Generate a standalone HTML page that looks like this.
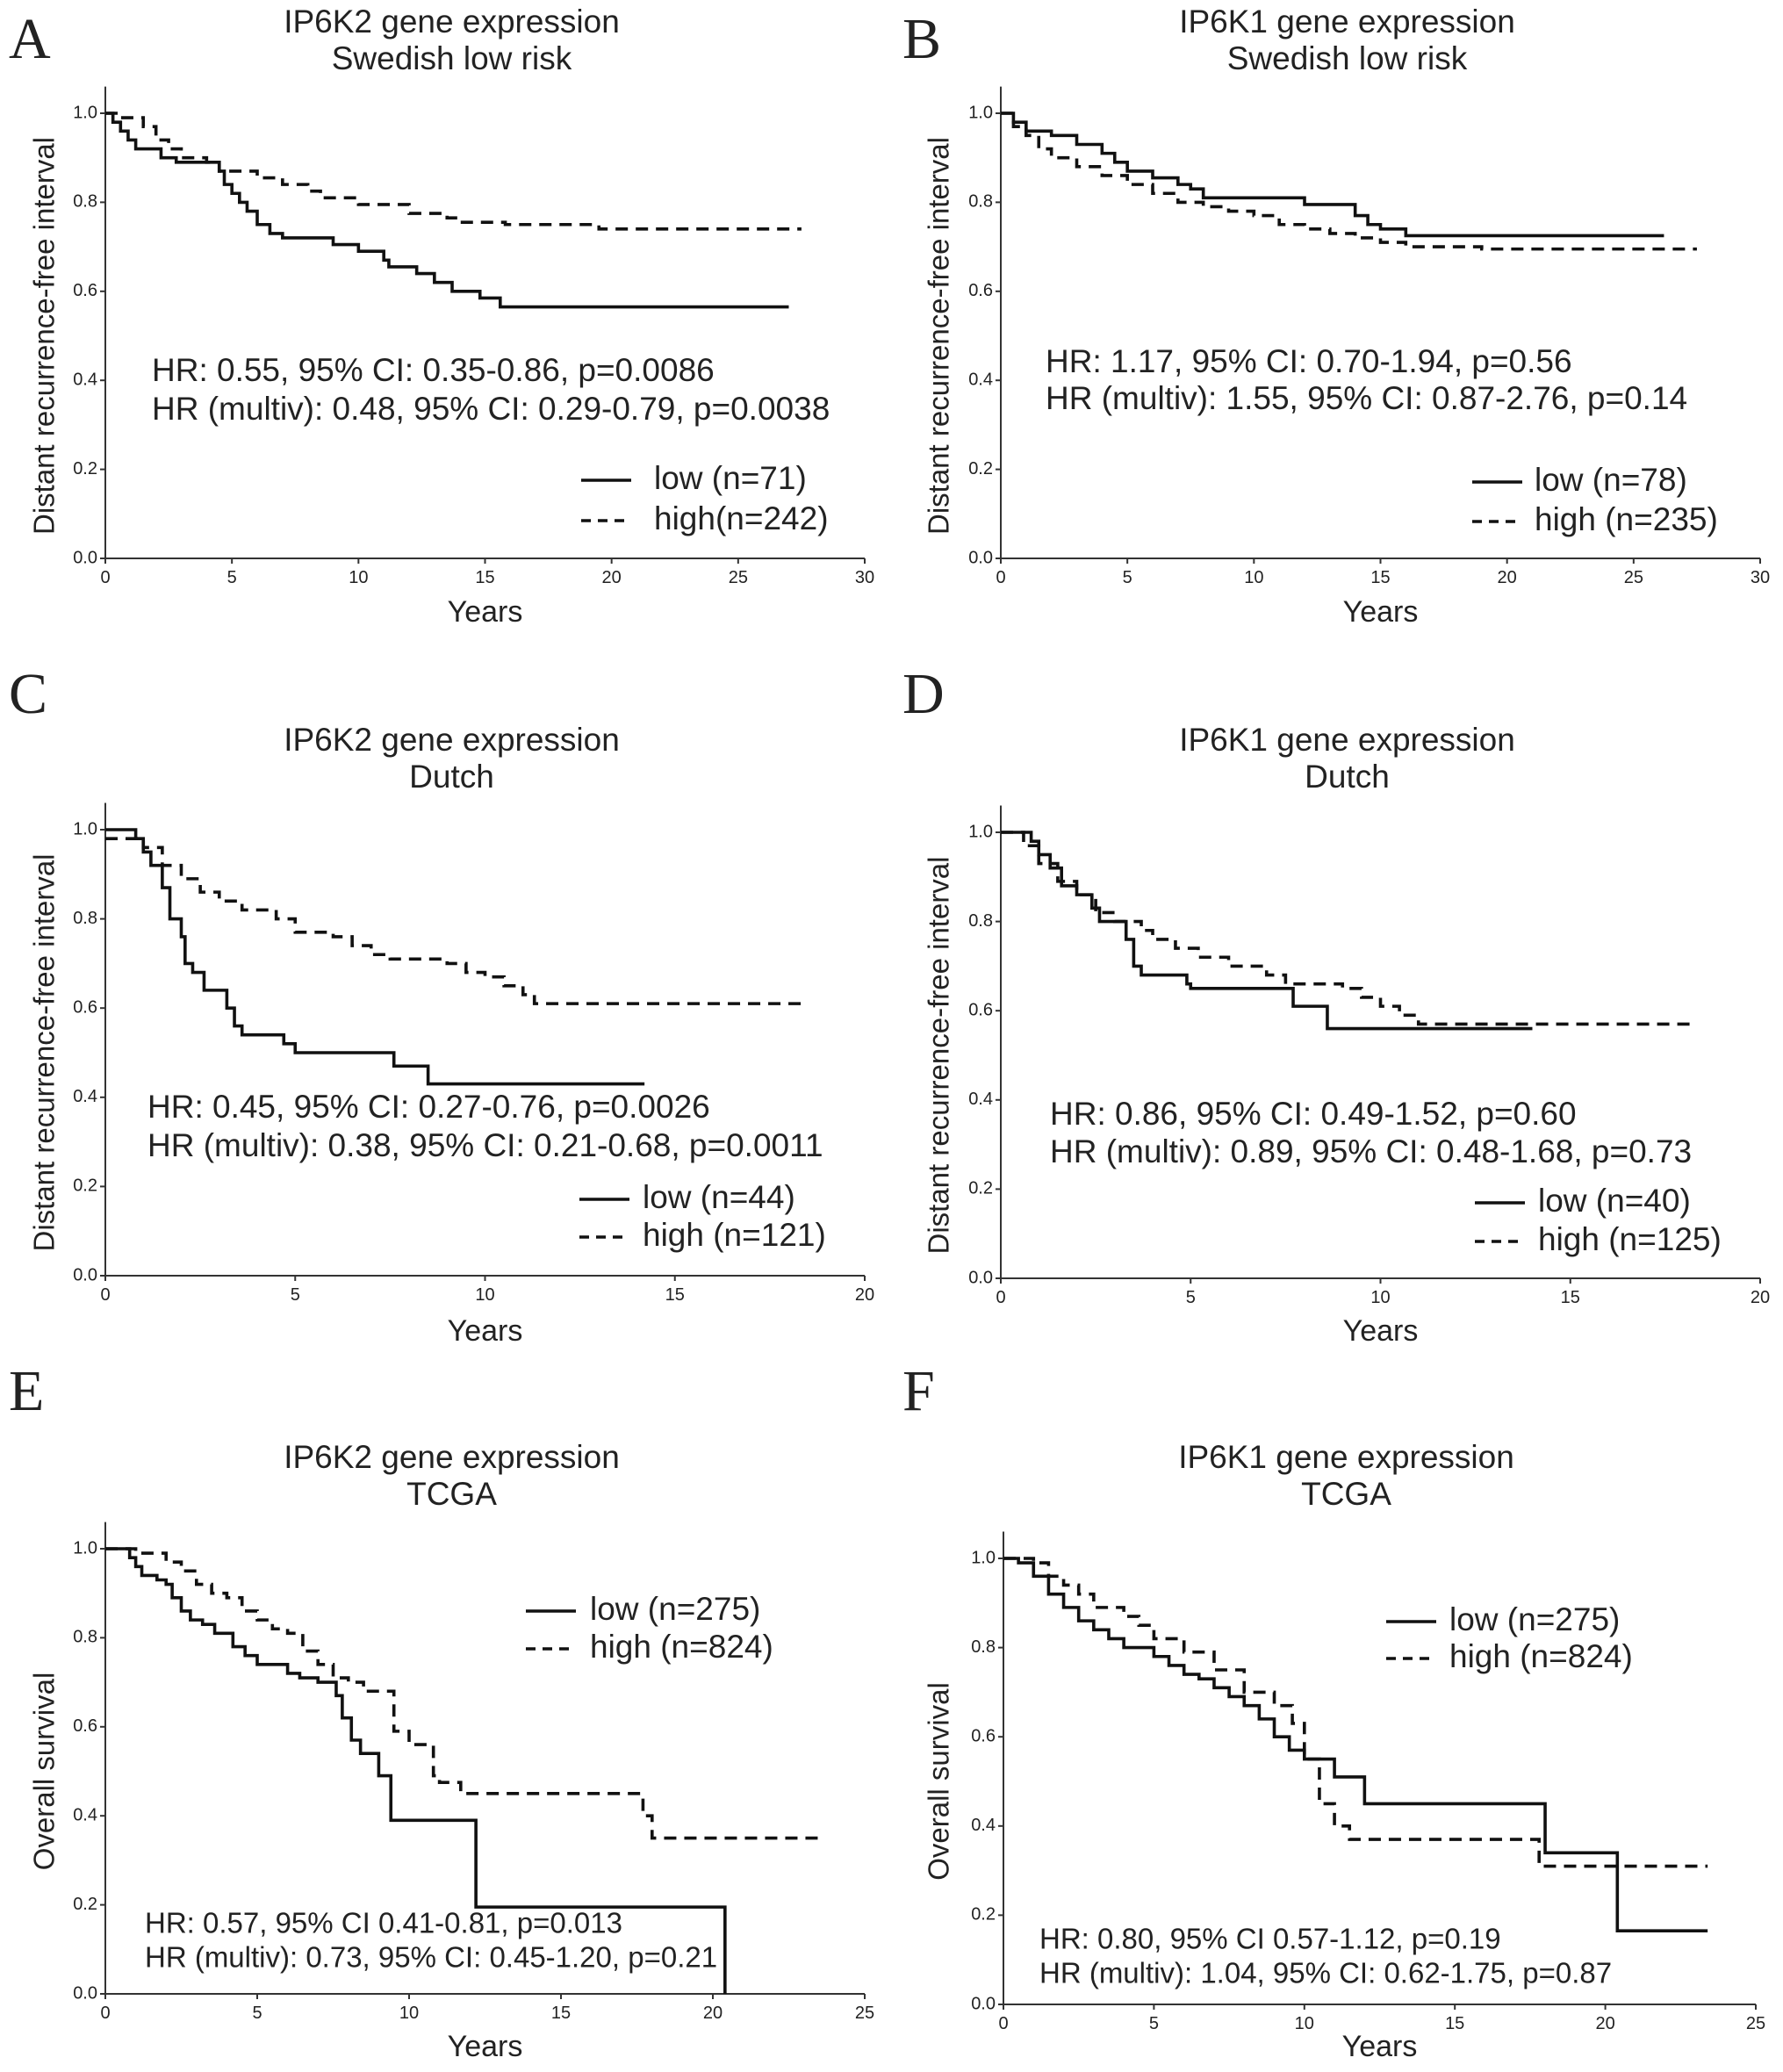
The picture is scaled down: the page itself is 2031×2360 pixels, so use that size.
<!DOCTYPE html>
<html><head><meta charset="utf-8"><style>
html,body{margin:0;padding:0;background:#fff}
svg{display:block}
text{font-family:"Liberation Sans",sans-serif;fill:#222}
</style></head><body>
<svg id="fig" width="2031" height="2360" viewBox="0 0 2031 2360"></svg>
<script>
// ---- data arrays (time in years, survival fraction) ----
const A_low_t=[0,0.3,0.6,0.9,1.2,2.2,2.8,4.5,4.7,5.0,5.3,5.6,6.0,6.5,7.0,9.0,10,11,11.2,12.3,13,13.7,14.8,15.6];
const A_low_s=[1.0,0.98,0.96,0.94,0.92,0.90,0.89,0.87,0.84,0.82,0.80,0.78,0.75,0.73,0.72,0.705,0.69,0.67,0.655,0.64,0.62,0.60,0.585,0.565];
const A_low_end=27;
const A_high_t=[0,0.5,1.5,2,2.5,3,4,4.5,6,7,8,8.5,10,12,13.5,14,15.8,19.5];
const A_high_s=[1.0,0.99,0.97,0.94,0.92,0.90,0.89,0.87,0.855,0.84,0.825,0.81,0.795,0.775,0.765,0.755,0.75,0.74];
const A_high_end=27.5;

const B_low_t=[0,0.5,1,2,3,4,4.5,5,6,7,7.5,8,12,14,14.5,15,16];
const B_low_s=[1.0,0.98,0.96,0.95,0.93,0.91,0.89,0.87,0.855,0.84,0.83,0.81,0.795,0.77,0.75,0.74,0.725];
const B_low_end=26.2;
const B_high_t=[0,0.5,1,1.5,2,3,4,5,6,7,8,9,10,11,12,13,14,15,16,19];
const B_high_s=[1.0,0.97,0.95,0.92,0.90,0.88,0.86,0.84,0.82,0.80,0.79,0.78,0.77,0.75,0.74,0.73,0.72,0.71,0.70,0.695];
const B_high_end=27.5;

const C_low_t=[0,0.8,1,1.2,1.5,1.7,2,2.1,2.3,2.6,3.2,3.4,3.6,4.7,5,7.6,8.5];
const C_low_s=[1.0,0.98,0.95,0.92,0.87,0.80,0.76,0.70,0.68,0.64,0.60,0.56,0.54,0.52,0.50,0.47,0.43];
const C_low_end=14.2;
const C_high_t=[0,1,1.5,2,2.5,3,3.6,4.5,5,6,6.5,7,7.5,9,9.5,10,10.5,11,11.3];
const C_high_s=[0.98,0.96,0.92,0.89,0.86,0.84,0.82,0.80,0.77,0.76,0.74,0.72,0.71,0.70,0.68,0.67,0.65,0.63,0.61];
const C_high_end=18.5;

const D_low_t=[0,0.8,1,1.3,1.6,2,2.4,2.6,3.3,3.5,3.7,4.9,5,7.7,8.6];
const D_low_s=[1.0,0.98,0.95,0.92,0.88,0.86,0.83,0.80,0.76,0.70,0.68,0.66,0.65,0.61,0.56];
const D_low_end=14;
const D_high_t=[0,0.6,1,1.5,2,2.5,3,3.7,4,4.6,5.2,6,7,7.5,9,9.5,10,10.5,11];
const D_high_s=[1.0,0.97,0.93,0.89,0.86,0.82,0.80,0.78,0.76,0.74,0.72,0.70,0.68,0.66,0.65,0.63,0.61,0.59,0.57];
const D_high_end=18.3;

const E_low_t=[0,0.8,1,1.2,1.7,2,2.2,2.5,2.8,3.2,3.6,4.2,4.6,5,6,6.4,7,7.6,7.8,8.1,8.4,9,9.4,12.2,20.4];
const E_low_s=[1.0,0.98,0.96,0.94,0.93,0.92,0.89,0.86,0.84,0.83,0.81,0.78,0.76,0.74,0.72,0.71,0.70,0.67,0.62,0.57,0.54,0.49,0.39,0.195,0.0];
const E_low_end=20.4;
const E_high_t=[0,1,2,2.5,3,3.5,4,4.5,5,5.5,6,6.5,7,7.5,8,8.5,9.5,10,10.8,11,11.7,17.7,18];
const E_high_s=[1.0,0.99,0.97,0.95,0.92,0.90,0.89,0.86,0.84,0.82,0.81,0.77,0.74,0.71,0.70,0.68,0.59,0.56,0.49,0.475,0.45,0.40,0.35];
const E_high_end=23.5;

const F_low_t=[0,0.5,1,1.5,2,2.5,3,3.5,4,5,5.5,6,6.5,7,7.5,8,8.5,9,9.5,10,11,12,18,20.4];
const F_low_s=[1.0,0.99,0.96,0.92,0.89,0.86,0.84,0.82,0.80,0.78,0.76,0.74,0.73,0.71,0.69,0.67,0.64,0.60,0.57,0.55,0.51,0.45,0.34,0.165];
const F_low_end=23.4;
const F_high_t=[0,1,1.5,2,2.5,3,4,4.5,5,6,7,8,9,9.6,10,10.5,11,11.5,17.8];
const F_high_s=[1.0,0.99,0.96,0.94,0.92,0.89,0.87,0.85,0.82,0.79,0.75,0.70,0.67,0.63,0.55,0.45,0.40,0.37,0.31];
const F_high_end=23.4;

const yTicks=[0,0.2,0.4,0.6,0.8,1.0];

const panels=[
 {id:'a',letter:'A',lx:10,ly:66,title:['IP6K2 gene expression','Swedish low risk'],ty:[27,69],x0:120,x1:985,yT:129,yB:636,xmax:30,xstep:5,ylab:'Distant recurrence-free interval',ylx:53,yrs:699,
  hr:['HR: 0.55, 95% CI: 0.35-0.86, p=0.0086','HR (multiv): 0.48, 95% CI: 0.29-0.79, p=0.0038'],hx:173,hy:[424,468],hf:37,
  leg:['low (n=71)','high(n=242)'],lg:[662,719,745],legy:[547,593],
  low:[A_low_t,A_low_s,A_low_end],high:[A_high_t,A_high_s,A_high_end]},
 {id:'b',letter:'B',lx:1028,ly:66,title:['IP6K1 gene expression','Swedish low risk'],ty:[27,69],x0:1140,x1:2005,yT:129,yB:636,xmax:30,xstep:5,ylab:'Distant recurrence-free interval',ylx:1072,yrs:699,
  hr:['HR: 1.17, 95% CI: 0.70-1.94, p=0.56','HR (multiv): 1.55, 95% CI: 0.87-2.76, p=0.14'],hx:1191,hy:[414,456],hf:37,
  leg:['low (n=78)','high (n=235)'],lg:[1677,1734,1748],legy:[549,594],
  low:[B_low_t,B_low_s,B_low_end],high:[B_high_t,B_high_s,B_high_end]},
 {id:'c',letter:'C',lx:10,ly:812,title:['IP6K2 gene expression','Dutch'],ty:[845,887],x0:120,x1:985,yT:945,yB:1453,xmax:20,xstep:5,ylab:'Distant recurrence-free interval',ylx:53,yrs:1518,
  hr:['HR: 0.45, 95% CI: 0.27-0.76, p=0.0026','HR (multiv): 0.38, 95% CI: 0.21-0.68, p=0.0011'],hx:168,hy:[1263,1307],hf:37,
  leg:['low (n=44)','high (n=121)'],lg:[660,717,732],legy:[1366,1409],
  low:[C_low_t,C_low_s,C_low_end],high:[C_high_t,C_high_s,C_high_end]},
 {id:'d',letter:'D',lx:1028,ly:812,title:['IP6K1 gene expression','Dutch'],ty:[845,887],x0:1140,x1:2005,yT:948,yB:1456,xmax:20,xstep:5,ylab:'Distant recurrence-free interval',ylx:1072,yrs:1518,
  hr:['HR: 0.86, 95% CI: 0.49-1.52, p=0.60','HR (multiv): 0.89, 95% CI: 0.48-1.68, p=0.73'],hx:1196,hy:[1271,1314],hf:37,
  leg:['low (n=40)','high (n=125)'],lg:[1680,1737,1752],legy:[1370,1414],
  low:[D_low_t,D_low_s,D_low_end],high:[D_high_t,D_high_s,D_high_end]},
 {id:'e',letter:'E',lx:10,ly:1606,title:['IP6K2 gene expression','TCGA'],ty:[1662,1704],x0:120,x1:985,yT:1764,yB:2271,xmax:25,xstep:5,ylab:'Overall survival',ylx:53,yrs:2333,
  hr:['HR: 0.57, 95% CI 0.41-0.81, p=0.013','HR (multiv): 0.73, 95% CI: 0.45-1.20, p=0.21'],hx:165,hy:[2193,2232],hf:33,
  leg:['low (n=275)','high (n=824)'],lg:[599,656,672],legy:[1835,1878],
  low:[E_low_t,E_low_s,E_low_end],high:[E_high_t,E_high_s,E_high_end]},
 {id:'f',letter:'F',lx:1028,ly:1606,title:['IP6K1 gene expression','TCGA'],ty:[1662,1704],x0:1143,x1:2000,yT:1775,yB:2283,xmax:25,xstep:5,ylab:'Overall survival',ylx:1072,yrs:2333,
  hr:['HR: 0.80, 95% CI 0.57-1.12, p=0.19','HR (multiv): 1.04, 95% CI: 0.62-1.75, p=0.87'],hx:1184,hy:[2211,2250],hf:33,
  leg:['low (n=275)','high (n=824)'],lg:[1579,1636,1651],legy:[1847,1889],
  low:[F_low_t,F_low_s,F_low_end],high:[F_high_t,F_high_s,F_high_end]}
];

const NS='http://www.w3.org/2000/svg';
const svg=document.getElementById('fig');
function mk(tag,attrs,parent,txt){const e=document.createElementNS(NS,tag);for(const k in attrs)e.setAttribute(k,attrs[k]);if(txt!==undefined)e.textContent=txt;parent.appendChild(e);return e;}

panels.forEach(p=>{
  const g=mk('g',{},svg);
  
  
  const xs=t=>p.x0+(p.x1-p.x0)*t/p.xmax;
  const ys=v=>p.yB-(p.yB-p.yT)*v;
  const cx=(p.x0+p.x1)/2;
  let e=mk('text',{x:p.lx,y:p.ly,'font-size':66,style:'font-family:"Liberation Serif",serif'},g,p.letter);
  
  
  p.title.forEach((s,i)=>{
    const t=mk('text',{x:cx-38,y:p.ty[i],'font-size':37,'text-anchor':'middle','dominant-baseline':'middle'},g,s);
    
    
  });
  const top=ys(1.06);
  e=mk('path',{d:`M${p.x0},${top}V${p.yB}H${p.x1}`,stroke:'#333','stroke-width':2,fill:'none'},g);
  
  
  yTicks.forEach(v=>{
    mk('line',{x1:p.x0-6,x2:p.x0,y1:ys(v),y2:ys(v),stroke:'#333','stroke-width':2},g);
    const t=mk('text',{x:p.x0-9,y:ys(v),'font-size':20,'text-anchor':'end','dominant-baseline':'middle'},g,v.toFixed(1));
    
    
  });
  for(let v=0;v<=p.xmax;v+=p.xstep){
    mk('line',{x1:xs(v),x2:xs(v),y1:p.yB,y2:p.yB+6,stroke:'#333','stroke-width':2},g);
    const t=mk('text',{x:xs(v),y:p.yB+28,'font-size':20,'text-anchor':'middle'},g,String(v));
    
    
  }
  e=mk('text',{x:cx,y:p.yrs,'font-size':34,'text-anchor':'middle','dominant-baseline':'middle'},g,'Years');
  
  
  const my=(p.yT+p.yB)/2;
  e=mk('text',{x:p.ylx,y:my,'font-size':33,'text-anchor':'middle','dominant-baseline':'middle',transform:`rotate(-90 ${p.ylx} ${my})`},g,p.ylab);
  
  
  function curve(arr,dash,name){
    const [t,s,end]=arr;
    let d=`M${xs(t[0])},${ys(s[0])}`;
    for(let i=1;i<t.length;i++){d+=`H${xs(t[i])}V${ys(s[i])}`;}
    d+=`H${xs(end)}`;
    const c=mk('path',{d:d,stroke:'#111','stroke-width':3.6,fill:'none'},g);
    if(dash)c.setAttribute('stroke-dasharray','14 9');
    
    
  }
  curve(p.high,true,'curve-high-'+p.id);
  curve(p.low,false,'curve-low-'+p.id);
  p.hr.forEach((s,i)=>{
    const t=mk('text',{x:p.hx,y:p.hy[i],'font-size':p.hf,'dominant-baseline':'middle'},g,s);
    
    
  });
  p.leg.forEach((s,i)=>{
    const l=mk('line',{x1:p.lg[0],x2:p.lg[1],y1:p.legy[i],y2:p.legy[i],stroke:'#111','stroke-width':3.6},g);
    if(i===1)l.setAttribute('stroke-dasharray','11 8');
    
    
    const t=mk('text',{x:p.lg[2],y:p.legy[i],'font-size':37,'dominant-baseline':'middle'},g,s);
    
    
  });
});
</script>
</body></html>
